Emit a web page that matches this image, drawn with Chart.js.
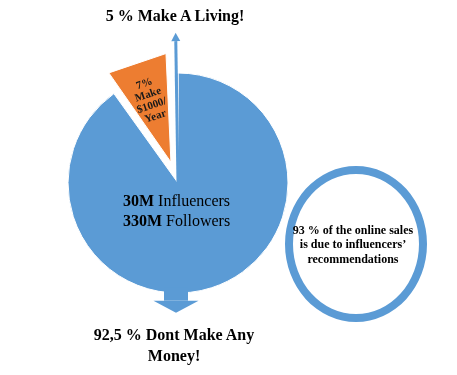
<!DOCTYPE html>
<html>
<head>
<meta charset="utf-8">
<script src="https://cdn.jsdelivr.net/npm/chart.js@4"></script>
<style>
  body { margin: 0; background: #fff; }
  #wrap { position: relative; width: 457px; height: 375px; overflow: hidden; }
  #myChart { position: absolute; left: 0; top: 0; }
  .txt { position: absolute; font-family: "Liberation Serif", "Times New Roman", serif; color: #000; white-space: nowrap; }
  .ring { position: absolute; left: 285px; top: 166px; width: 142px; height: 156px;
          box-sizing: border-box; border: 8px solid #5b9bd5; border-radius: 50%; }
</style>
</head>
<body>
<div id="wrap">
  <div class="ring"></div>
  <canvas id="myChart" width="457" height="375"></canvas>
  <div class="txt" style="left:0;width:350px;top:5px;font-size:16px;line-height:21px;font-weight:bold;text-align:center;">5 % Make A Living!</div>
  <div class="txt" style="left:123px;top:190.6px;font-size:16px;line-height:20px;">
    <b>30M</b> Influencers<br><b>330M</b> Followers
  </div>
  <div class="txt" style="left:273px;width:160px;top:222.7px;font-size:12px;line-height:14.5px;font-weight:bold;text-align:center;">
    93 % of the online sales<br>is due to influencers’<br>recommendations
  </div>
  <div class="txt" style="left:74px;width:200px;top:324px;font-size:16px;line-height:21px;font-weight:bold;text-align:center;">
    92,5 % Dont Make Any<br>Money!
  </div>
</div>
<script>
// pie slices (angles as drawn)
const segments = ["Dont Make Any Money", "Make $1000/Year", "Make A Living"];
const shares = [90.1, 9.4, 0.5];
const sliceLabel = ["7%", "Make", "$1000/", "Year"];

const blue = "#5b9bd5";
const orange = "#ed7d31";

// orange slice is drawn a bit smaller than the rest
const shrinkOrange = {
  id: "shrinkOrange",
  afterDatasetsUpdate(chart) {
    const arc = chart.getDatasetMeta(0).data[1];
    arc.outerRadius = arc.outerRadius * 0.9;
  },
};

// arrows + label on the orange slice
const extras = {
  id: "extras",
  afterDatasetsDraw(chart) {
    const ctx = chart.ctx;
    const arcs = chart.getDatasetMeta(0).data;
    const cx = arcs[0].x, cy = arcs[0].y, r = arcs[0].outerRadius;

    // up arrow along the thin slice
    const thin = arcs[2];
    const a = (thin.startAngle + thin.endAngle) / 2;
    ctx.save();
    ctx.translate(cx, cy);
    ctx.rotate(a + Math.PI / 2);
    ctx.fillStyle = blue;
    ctx.fillRect(-1.5, -r * 1.29, 3, r * 1.29);
    ctx.beginPath();
    ctx.moveTo(-4.5, -r * 1.29);
    ctx.lineTo(4.5, -r * 1.29);
    ctx.lineTo(0, -r * 1.365);
    ctx.closePath();
    ctx.fill();
    ctx.restore();

    // down arrow under the pie
    ctx.save();
    ctx.translate(cx - 2, cy);
    ctx.fillStyle = blue;
    ctx.fillRect(-12, r * 0.95, 24, r * 0.12);
    ctx.beginPath();
    ctx.moveTo(-22.5, r * 1.07);
    ctx.lineTo(22.5, r * 1.07);
    ctx.lineTo(0, r * 1.18);
    ctx.closePath();
    ctx.fill();
    ctx.restore();

    // label on orange slice (chart.js draws offset / 4)
    const o = arcs[1];
    const m = (o.startAngle + o.endAngle) / 2;
    const off = o.options.offset / 4;
    const d = off + o.outerRadius * 0.66;
    ctx.save();
    ctx.translate(o.x + Math.cos(m) * d, o.y + Math.sin(m) * d);
    ctx.rotate(m + Math.PI / 2);
    ctx.fillStyle = "#1a1a1a";
    ctx.font = "bold 11px 'Liberation Serif'";
    ctx.textAlign = "center";
    ctx.textBaseline = "middle";
    const lh = 11.5;
    sliceLabel.forEach((t, i) => {
      ctx.fillText(t, 0, (i - (sliceLabel.length - 1) / 2) * lh);
    });
    ctx.restore();
  },
};

const config = {
  type: "pie",
  data: {
    labels: segments,
    datasets: [
      {
        data: shares,
        backgroundColor: [blue, orange, blue],
        borderColor: "#fff",
        borderWidth: 1,
        offset: [0, 88, 0],
        circular: (c) => c.dataIndex !== 1,
      },
    ],
  },
  options: {
    responsive: false,
    animation: false,
    radius: 110,
    layout: { padding: { left: 0, right: 101, top: 0, bottom: 9 } },
    plugins: {
      legend: { display: false },
      tooltip: { enabled: false },
    },
  },
  plugins: [shrinkOrange, extras],
};

const myChart = new Chart(document.getElementById("myChart"), config);
</script>
</body>
</html>
